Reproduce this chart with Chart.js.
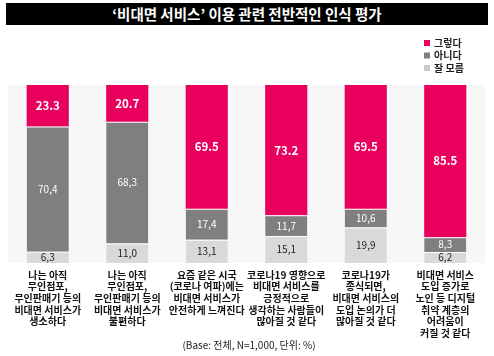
<!DOCTYPE html>
<html><head><meta charset="utf-8">
<script src="https://cdn.jsdelivr.net/npm/chart.js@4.4.1/dist/chart.umd.min.js"></script>
<style>
html,body{margin:0;padding:0;background:#fff;}
#wrap{position:relative;width:494px;height:356px;font-family:"Noto Sans CJK KR","Noto Sans",sans-serif;}
#title{position:absolute;left:6px;top:3px;width:482px;height:22px;background:#000;color:#fff;font-weight:bold;font-size:14.5px;line-height:22px;text-align:center;}
#note{position:absolute;left:0;width:494px;top:337px;font-size:10px;text-align:center;color:#222;padding-left:4px;box-sizing:border-box;}
canvas{position:absolute;left:0;top:0;}
</style></head>
<body><div id="wrap">
<canvas id="c" width="494" height="356"></canvas>
<div id="title">‘비대면 서비스’ 이용 관련 전반적인 인식 평가</div>
<div id="note">(Base: 전체, N=1,000, 단위: %)</div>
</div>
<script>
const categories = [
  ["나는 아직","무인점포,","무인판매기 등의","비대면 서비스가","생소하다"],
  ["나는 아직","무인점포,","무인판매기 등의","비대면 서비스가","불편하다"],
  ["요즘 같은 시국","(코로나 여파)에는","비대면 서비스가","안전하게 느껴진다"],
  ["코로나19 영향으로","비대면 서비스를","긍정적으로","생각하는 사람들이","많아질 것 같다"],
  ["코로나19가","종식되면,","비대면 서비스의","도입 논의가 더","많아질 것 같다"],
  ["비대면 서비스","도입 증가로","노인 등 디지털","취약 계층의","어려움이","커질 것 같다"]
];
const seriesNames = ["잘 모름","아니다","그렇다"];
const dontKnow = [6.3, 11.0, 13.1, 15.1, 19.9, 6.2];
const no = [70.4, 68.3, 17.4, 11.7, 10.6, 8.3];
const yes = [23.3, 20.7, 69.5, 73.2, 69.5, 85.5];
const colors = ["#d9d9d9","#7f7f7f","#e9005f"];
const legendColors = ["#e9005f","#7f7f7f","#c8c8c8"];

const FONT = '"Noto Sans CJK KR","Noto Sans",sans-serif';

const bgPlugin = {
  id:'bg',
  beforeDraw(chart){
    const {ctx, chartArea:a} = chart;
    ctx.save(); ctx.fillStyle='#f7f7f7';
    ctx.fillRect(a.left, a.top, a.right-a.left, a.bottom-a.top);
    ctx.restore();
  }
};
const labelPlugin = {
  id:'vals',
  afterDatasetsDraw(chart){
    const ctx = chart.ctx;
    chart.data.datasets.forEach((ds, di)=>{
      const meta = chart.getDatasetMeta(di);
      meta.data.forEach((bar, i)=>{
        const v = ds.data[i];
        const y = (bar.y + bar.base)/2;
        ctx.save();
        ctx.textAlign='center'; ctx.textBaseline='middle';
        if (di===2){ ctx.fillStyle='#fff'; ctx.font='bold 11.5px '+FONT; ctx.fillText(v.toFixed(1), bar.x, y); }
        else if (di===1){ ctx.fillStyle='#fff'; ctx.font='10px '+FONT; ctx.fillText(v.toFixed(1).replace('.',','), bar.x, y); }
        else { ctx.fillStyle='#222'; ctx.font='10px '+FONT; ctx.fillText(v.toFixed(1).replace('.',','), bar.x, y); }
        ctx.restore();
      });
    });
  }
};
const legendPlugin = {
  id:'leg',
  afterDraw(chart){
    const ctx = chart.ctx;
    const order = [2,1,0];
    order.forEach((di, k)=>{
      const y = 43 + k*12.5;
      ctx.save();
      ctx.fillStyle = legendColors[k];
      ctx.fillRect(424, y-3, 6, 6);
      ctx.fillStyle='#222'; ctx.font='bold 10px '+FONT;
      ctx.textBaseline='middle'; ctx.textAlign='left';
      ctx.fillText(chart.data.datasets[di].label, 434, y);
      ctx.restore();
    });
  }
};

new Chart(document.getElementById('c'), {
  type:'bar',
  data:{
    labels: categories,
    datasets:[
      {label:seriesNames[0], data:dontKnow, backgroundColor:colors[0], borderColor:'#ffffff', borderWidth:{top:1}, borderSkipped:false},
      {label:seriesNames[1], data:no, backgroundColor:colors[1], borderColor:'#ffffff', borderWidth:{top:1}, borderSkipped:false},
      {label:seriesNames[2], data:yes, backgroundColor:colors[2], borderWidth:0}
    ]
  },
  options:{
    responsive:false, animation:false,
    layout:{padding:{left:8,right:9,top:85,bottom:0}},
    plugins:{legend:{display:false}, tooltip:{enabled:false}},
    datasets:{bar:{categoryPercentage:1, barPercentage:0.53}},
    scales:{
      x:{stacked:true, grid:{display:false, drawTicks:false}, border:{display:false},
         ticks:{color:'#111', font:{family:FONT, size:10, weight:'bold', lineHeight:1.17}, padding:6, maxRotation:0, autoSkip:false},
         afterFit(s){ s.height = 93; }},
      y:{stacked:true, display:false, min:0, max:100}
    }
  },
  plugins:[bgPlugin, labelPlugin, legendPlugin]
});
</script>
</body></html>
